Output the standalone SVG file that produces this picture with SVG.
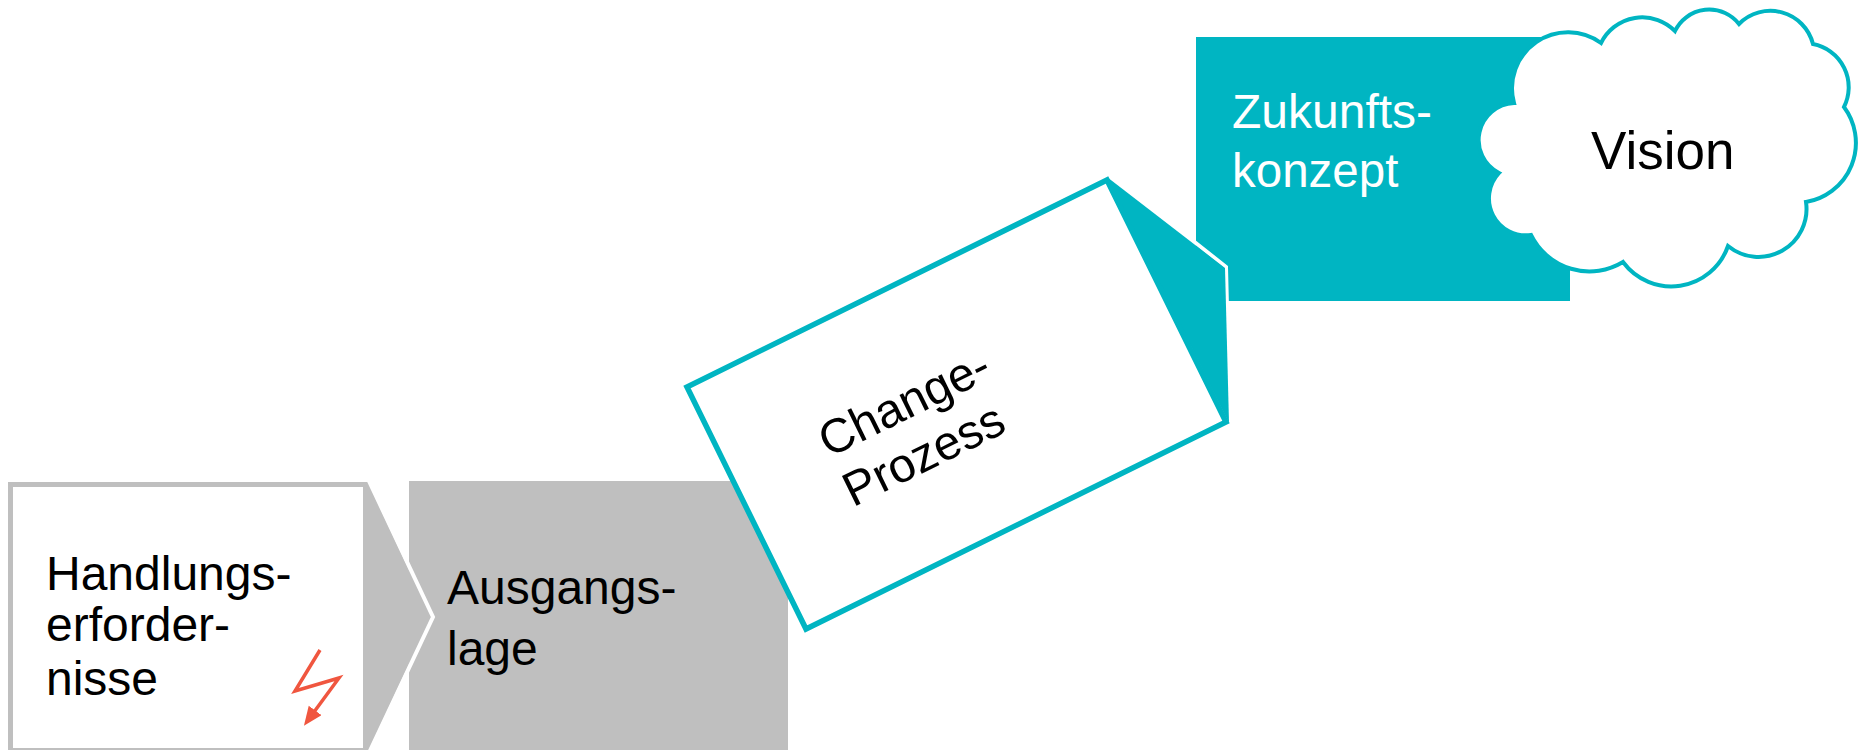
<svg xmlns="http://www.w3.org/2000/svg" width="1864" height="750" viewBox="0 0 1864 750">
<style>
text{font-family:"Liberation Sans",Arial,sans-serif;font-size:48px;fill:#000}
.g{fill:#bfbfbf}
.t{fill:#00b5c2}
.w{fill:none;stroke:#fff;stroke-width:4}
</style>
<defs>
<marker id="bolt" markerUnits="userSpaceOnUse" markerWidth="22" markerHeight="18" refX="2" refY="8" orient="auto"><path d="M0 0L19 8L0 16Z" fill="#f0563f"/></marker>
</defs>
<rect width="1864" height="750" fill="#fff"/>
<g id="ausgangslage">
<rect class="g" x="409" y="481" width="379" height="269"/>
<text x="447" y="604">Ausgangs-</text>
<text x="447" y="665">lage</text>
</g>
<g id="handlungserfordernisse">
<polygon class="g" points="8,482 368,482 431,617 368,752 8,752"/>
<polyline class="w" points="368,479 433,617 368,755"/>
<rect x="13" y="487" width="350" height="261" fill="#fff"/>
<text x="46" y="590">Handlungs-</text>
<text x="46" y="641">erforder-</text>
<text x="46" y="695">nisse</text>
</g>
<g id="zukunftskonzept">
<rect class="t" x="1196" y="37" width="374" height="264"/>
<text x="1232" y="128" style="fill:#fff">Zukunfts-</text>
<text x="1232" y="187" style="fill:#fff;font-size:47.5px">konzept</text>
</g>
<g id="change-prozess">
<polyline class="w" points="1192,240 1226,267 1230,430"/>
<polygon class="t" points="1107,177 1225,268 1229,423"/>
<polygon points="1107,180 687,387 806,629 1226,422" fill="#fff" stroke="#00b5c2" stroke-width="5.5"/>
<g transform="translate(913 430) rotate(-26.2)">
<text x="-88" y="-12">Change-</text>
<text x="-88" y="43">Prozess</text>
</g>
</g>
<g id="vision">
<path d="M1601 43A46 46 0 0 1 1675 31A38 38 0 0 1 1739 24A44 44 0 0 1 1813 44A44 44 0 0 1 1844 107A60 60 0 0 1 1806 202A48 48 0 0 1 1728 246A60 60 0 0 1 1623 262A65 65 0 0 1 1531 235A37 37 0 0 1 1499 173A37 37 0 0 1 1514 103A56 56 0 0 1 1601 43Z" fill="#fff" stroke="#00b5c2" stroke-width="4"/>
<text x="1591" y="169" style="font-size:53px">Vision</text>
</g>
<g id="connectors">
<polyline points="320,650 295,691 339,678 314,712" fill="none" stroke="#f0563f" stroke-width="3.5" marker-end="url(#bolt)"/>
</g>
</svg>
